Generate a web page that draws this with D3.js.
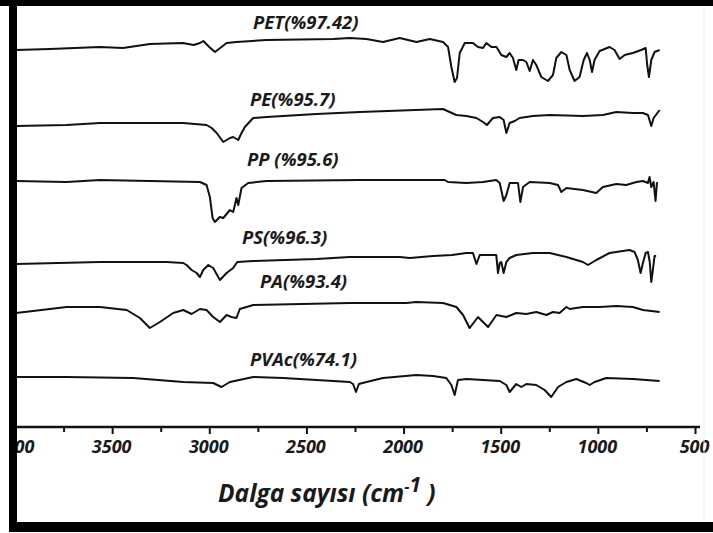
<!DOCTYPE html>
<html><head><meta charset="utf-8">
<script src="https://cdn.jsdelivr.net/npm/d3@7/dist/d3.min.js"></script>
<style>
body{margin:0;background:#fff}
svg text{font-family:"Open Sans",sans-serif;font-weight:bold;font-style:italic;fill:#1a1a1a}
</style>
</head><body>
<svg id="chart" width="713" height="533"></svg>
<script>
// ---- data: [wavenumber (cm-1), offset transmittance (a.u.)] ----
const seriesNames = ["PET(%97.42)", "PE(%95.7)", "PP (%95.6)", "PS(%96.3)", "PA(%93.4)", "PVAc(%74.1)"];
const PET = [[3995,450],[3820,451],[3563,453],[3444,452],[3306,456],[3136,457],[3080,455],[3048,457],[3031,459],[3000,453],[2971,448],[2937,453],[2911,457],[2860,458],[2705,460],[2362,461],[2277,462],[2191,461],[2106,458],[2020,462],[1934,458],[1865,461],[1797,458],[1771,453],[1754,433],[1737,418],[1725,422],[1711,447],[1685,457],[1643,457],[1617,453],[1591,452],[1574,457],[1548,453],[1522,453],[1497,445],[1471,443],[1454,447],[1437,442],[1420,430],[1408,440],[1385,440],[1368,438],[1351,429],[1334,440],[1317,435],[1291,423],[1257,419],[1231,425],[1214,442],[1188,448],[1162,445],[1145,430],[1120,419],[1094,423],[1073,440],[1056,447],[1042,440],[1030,428],[1017,440],[991,449],[965,451],[940,453],[914,450],[888,441],[862,445],[820,447],[777,450],[754,452],[746,435],[737,423],[725,440],[708,448],[682,450]];
const PE = [[3995,374],[3734,375],[3563,377],[3306,377],[3134,377],[3014,375],[2988,372],[2962,367],[2928,358],[2894,362],[2877,363],[2851,360],[2834,367],[2817,373],[2774,382],[2705,383],[2448,386],[2225,388],[1797,391],[1763,388],[1728,385],[1677,384],[1625,382],[1591,378],[1571,375],[1540,382],[1505,383],[1485,380],[1471,367],[1454,377],[1428,379],[1403,382],[1334,384],[1248,385],[1077,384],[974,385],[905,388],[820,387],[768,387],[742,385],[725,374],[713,382],[682,390]];
const PP = [[3995,319],[3734,318],[3563,320],[3306,319],[3048,318],[3014,315],[2997,303],[2983,282],[2971,278],[2946,283],[2928,282],[2894,290],[2877,288],[2860,302],[2851,295],[2834,312],[2800,317],[2705,319],[2225,320],[1788,320],[1771,318],[1677,317],[1591,318],[1523,320],[1505,317],[1485,299],[1471,305],[1454,317],[1411,317],[1399,298],[1385,313],[1351,318],[1248,317],[1205,315],[1188,308],[1162,312],[1077,310],[1008,307],[974,313],[905,316],[854,315],[802,318],[768,319],[742,317],[734,323],[725,313],[713,318],[703,299],[696,317],[691,317]];
const PS = [[3995,236],[3563,238],[3220,238],[3134,237],[3117,235],[3091,230],[3065,227],[3048,223],[3031,230],[3005,235],[2980,232],[2945,220],[2911,227],[2877,232],[2856,238],[2774,239],[2448,241],[2277,243],[2020,243],[1968,242],[1848,244],[1750,245],[1677,247],[1643,247],[1625,236],[1608,245],[1523,245],[1514,227],[1505,237],[1497,238],[1485,227],[1471,238],[1454,242],[1420,245],[1334,247],[1248,247],[1162,243],[1077,238],[1051,235],[1008,240],[940,247],[837,250],[811,248],[794,240],[780,227],[768,237],[754,247],[742,248],[733,238],[725,218],[717,230],[708,244],[700,244]];
const PA = [[3995,187],[3907,189],[3734,193],[3563,193],[3425,190],[3357,182],[3306,172],[3254,178],[3186,187],[3134,190],[3091,186],[3048,191],[3014,190],[2980,183],[2945,178],[2911,185],[2886,183],[2860,182],[2843,191],[2774,195],[2277,197],[1986,197],[1934,198],[1797,197],[1728,193],[1694,185],[1660,172],[1617,183],[1565,173],[1522,185],[1471,183],[1420,187],[1368,186],[1317,188],[1265,185],[1231,188],[1197,187],[1162,193],[1145,191],[1077,193],[991,193],[905,194],[820,193],[768,190],[682,188]];
const PVAc = [[3995,123],[3734,123],[3391,122],[3134,118],[2980,117],[2937,113],[2894,118],[2774,123],[2620,122],[2448,120],[2277,118],[2260,116],[2245,108],[2230,116],[2191,118],[2106,122],[1934,125],[1848,124],[1780,122],[1754,115],[1737,105],[1720,120],[1677,121],[1591,120],[1505,119],[1471,115],[1454,108],[1420,116],[1394,113],[1368,116],[1317,115],[1274,110],[1240,103],[1205,113],[1162,118],[1111,121],[1060,117],[1042,115],[1017,118],[957,122],[820,121],[682,119]];
const seriesData = [PET, PE, PP, PS, PA, PVAc];
const majorTicks = [4000, 3500, 3000, 2500, 2000, 1500, 1000, 500];
const minorTicks = [3750, 3250, 2750, 2250, 1750, 1250, 750];
const axisTitle = "Dalga sayısı (cm";
const axisTitleSup = ["-", "1"];

// ---- drawing ----
const svg = d3.select("#chart");
const W = 713, H = 533;
svg.append("rect").attr("width", W).attr("height", H).attr("fill", "#fff");

const x = d3.scaleLinear().domain([4000, 500]).range([15, 695]);
const y = d3.scaleLinear().domain([0, 500]).range([500, 0]);
const axisY = 427;

const plot = svg.append("g");

const line = d3.line().x(d => x(d[0])).y(d => y(d[1]));
plot.selectAll("path.trace").data(seriesData).join("path")
  .attr("class", "trace")
  .attr("d", line)
  .attr("fill", "none")
  .attr("stroke", "#111")
  .attr("stroke-width", 2)
  .attr("stroke-linejoin", "round");

// series labels (layout: left x, baseline y)
const labelPos = [[253, 28.5], [250, 106], [247, 166], [242, 244], [260, 288], [250, 366]];
plot.selectAll("text.lbl").data(seriesNames).join("text")
  .attr("class", "lbl")
  .attr("x", (d, i) => labelPos[i][0])
  .attr("y", (d, i) => labelPos[i][1])
  .attr("font-size", 18.5)
  .text(d => d);

// axis
const gAxis = plot.append("g").attr("transform", `translate(0,${axisY})`);
gAxis.call(d3.axisBottom(x).tickValues(majorTicks).tickSize(7).tickPadding(6).tickFormat(d3.format("d")))
  .call(g => g.select(".domain").remove())
  .call(g => g.selectAll(".tick line").attr("stroke", "#111").attr("stroke-width", 2))
  .call(g => g.selectAll(".tick text")
      .attr("font-size", 18).attr("font-family", null).attr("dx", -1).attr("fill", "#1a1a1a"));
gAxis.append("g").call(d3.axisBottom(x).tickValues(minorTicks).tickSize(5).tickFormat(""))
  .call(g => g.select(".domain").remove())
  .call(g => g.selectAll(".tick line").attr("stroke", "#111").attr("stroke-width", 2));
gAxis.append("line").attr("x1", x(4000)).attr("x2", x(500) + 5).attr("y1", 0).attr("y2", 0)
  .attr("stroke", "#111").attr("stroke-width", 2.5);

// axis title
const t = svg.append("text").attr("x", 218).attr("y", 502).attr("font-size", 24.5);
t.append("tspan").text(axisTitle);
t.append("tspan").attr("font-size", 16).attr("dy", -10).text(axisTitleSup[0]);
t.append("tspan").attr("font-size", 21).text(axisTitleSup[1]);
t.append("tspan").attr("font-size", 24.5).attr("dy", 10).text(" )");

// frame
svg.append("rect").attr("x", 0).attr("y", 0).attr("width", 9).attr("height", H).attr("fill", "#fff");
svg.append("rect").attr("x", 0).attr("y", 0).attr("width", W).attr("height", 6).attr("fill", "#000");
svg.append("rect").attr("x", 9).attr("y", 0).attr("width", 8).attr("height", 532).attr("fill", "#000");
svg.append("rect").attr("x", 9).attr("y", 522).attr("width", W - 9).attr("height", 10).attr("fill", "#000");
svg.append("line").attr("x1", 704).attr("x2", 704).attr("y1", 6).attr("y2", 522)
  .attr("stroke", "#eee").attr("stroke-width", 1);
</script>
</body></html>
